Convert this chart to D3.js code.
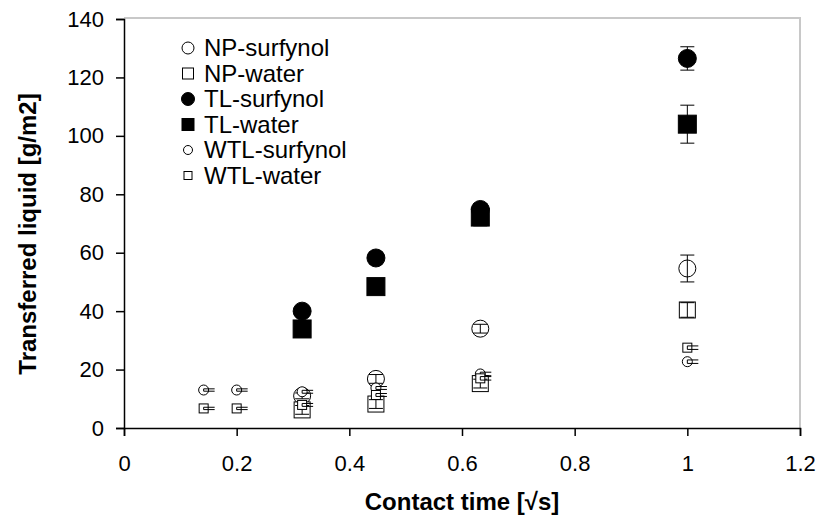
<!DOCTYPE html>
<html>
<head>
<meta charset="utf-8">
<script src="https://cdn.jsdelivr.net/npm/d3@7"></script>
<style>
  body { margin: 0; background: #fff; }
  svg text { font-family: "Liberation Sans", Arial, sans-serif; }
</style>
</head>
<body>
<div id="chart"></div>
<script>
// contact time [sqrt s]
const xFour = [0.3162, 0.4472, 0.6325, 1.0];
const xSix = [0.1414, 0.2, 0.3162, 0.4472, 0.6325, 1.0];

const npSurfynol = [11, 16.8, 34, 54.6];
const npSurfynolErr = [1, 1.5, 1.5, 4.6];
const npWater = [6.2, 8.2, 15.2, 40.4];
const npWaterErr = [1.5, 1.5, 1.5, 2.5];
const tlSurfynol = [40, 58.2, 74.8, 126.5];
const tlSurfynolErr = [1, 2, 2, 4];
const tlWater = [33.9, 48.4, 72.2, 104];
const tlWaterErr = [1, 1, 3, 6.5];
const wtlSurfynol = [13, 13, 12.4, 13.7, 18.5, 22.7];
const wtlSurfynolErr = [0.4, 0.4, 0.5, 0.5, 0.6, 0.6];
const wtlWater = [6.7, 6.7, 7.9, 11.3, 17, 27.5];
const wtlWaterErr = [0.4, 0.4, 0.5, 0.5, 0.6, 0.6];

const xTicks = [0, 0.2, 0.4, 0.6, 0.8, 1, 1.2];
const yTicks = [0, 20, 40, 60, 80, 100, 120, 140];

const series = [
  {name: "NP-surfynol", xs: xFour, ys: npSurfynol, err: npSurfynolErr, shape: "circle", fill: "none", size: 17, lsize: 12},
  {name: "NP-water", xs: xFour, ys: npWater, err: npWaterErr, shape: "square", fill: "none", size: 16, lsize: 11},
  {name: "TL-surfynol", xs: xFour, ys: tlSurfynol, err: tlSurfynolErr, shape: "circle", fill: "#000", size: 18, lsize: 13},
  {name: "TL-water", xs: xFour, ys: tlWater, err: tlWaterErr, shape: "square", fill: "#000", size: 18, lsize: 12},
  {name: "WTL-surfynol", xs: xSix, ys: wtlSurfynol, err: wtlSurfynolErr, shape: "circle", fill: "none", size: 10, lsize: 9},
  {name: "WTL-water", xs: xSix, ys: wtlWater, err: wtlWaterErr, shape: "square", fill: "none", size: 9, lsize: 8}
];

const width = 822, height = 523;
const mLeft = 124, mRight = 800, mTop = 19, mBottom = 428;

const x = d3.scaleLinear().domain([0, 1.2]).range([mLeft, mRight]);
const y = d3.scaleLinear().domain([0, 140]).range([mBottom, mTop]);

const svg = d3.select("#chart").append("svg")
  .attr("width", width)
  .attr("height", height);

// light frame top and right
svg.append("path")
  .attr("d", `M${mLeft},${mTop - 1}H${mRight}V${mBottom}`)
  .attr("fill", "none")
  .attr("stroke", "#c8c8c8")
  .attr("stroke-width", 2);

const xAxis = svg.append("g")
  .attr("transform", `translate(0,${mBottom})`)
  .call(d3.axisBottom(x).tickValues(xTicks).tickFormat(d3.format("~g")).tickSizeOuter(0).tickSize(8).tickPadding(19));

const yAxis = svg.append("g")
  .attr("transform", `translate(${mLeft},0)`)
  .call(d3.axisLeft(y).tickValues(yTicks).tickSizeOuter(0).tickSize(8).tickPadding(12));

[xAxis, yAxis].forEach(a => {
  a.selectAll("text").attr("font-size", 22).attr("fill", "#000")
    .attr("font-family", "Liberation Sans, Arial, sans-serif");
  a.selectAll("line, path").attr("stroke", "#000").attr("stroke-width", 1.5);
});

svg.append("text")
  .attr("x", 462).attr("y", 510)
  .attr("text-anchor", "middle")
  .attr("font-size", 24).attr("font-weight", "bold")
  .text("Contact time [\u221As]");

svg.append("text")
  .attr("transform", "translate(36,234) rotate(-90)")
  .attr("text-anchor", "middle")
  .attr("font-size", 24).attr("font-weight", "bold")
  .text("Transferred liquid [g/m2]");

function drawMarker(g, shape, size, fill) {
  if (shape === "circle") {
    g.append("circle").attr("r", size / 2)
      .attr("fill", fill === "none" ? "#fff" : fill)
      .attr("stroke", "#000").attr("stroke-width", 1);
  } else {
    g.append("rect").attr("x", -size / 2).attr("y", -size / 2)
      .attr("width", size).attr("height", size)
      .attr("fill", fill === "none" ? "#fff" : fill)
      .attr("stroke", "#000").attr("stroke-width", 1);
  }
}

const plot = svg.append("g");

series.forEach(s => {
  const pts = s.xs.map((xv, i) => ({x: xv, y: s.ys[i], e: s.err[i]}));
  const g = plot.append("g").attr("class", "series");
  const small = s.size < 12;
  pts.forEach(p => {
    const m = g.append("g").attr("transform", `translate(${x(p.x)},${y(p.y)})`);
    drawMarker(m, s.shape, s.size, s.fill);
    const y1 = y(p.y + p.e) - y(p.y), y2 = y(p.y - p.e) - y(p.y);
    m.append("line").attr("x1", 0).attr("x2", 0).attr("y1", y1).attr("y2", y2)
      .attr("stroke", "#000").attr("stroke-width", 1);
    const cx0 = small ? 0 : -7, cx1 = small ? 11 : 7;
    [y1, y2].forEach(yy => {
      m.append("line").attr("x1", cx0).attr("x2", cx1).attr("y1", yy).attr("y2", yy)
        .attr("stroke", "#000").attr("stroke-width", 1);
    });
  });
});

// legend
const legend = svg.append("g");
series.forEach((s, i) => {
  const row = legend.append("g").attr("transform", `translate(188,${48 + i * 25.5})`);
  drawMarker(row, s.shape, s.lsize, s.fill);
  row.append("text")
    .attr("x", 16).attr("y", 8)
    .attr("font-size", 24)
    .text(s.name);
});
</script>
</body>
</html>
